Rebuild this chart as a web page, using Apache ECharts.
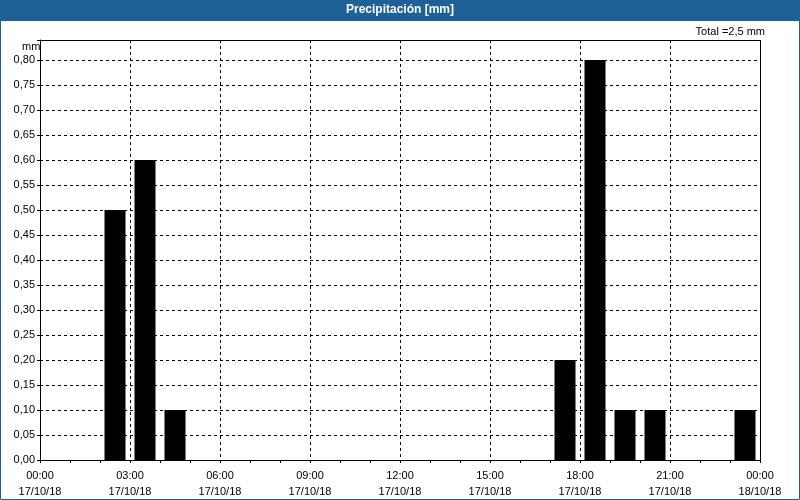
<!DOCTYPE html>
<html><head><meta charset="utf-8">
<script src="https://cdn.jsdelivr.net/npm/echarts@6/dist/echarts.min.js"></script>
<style>html,body{margin:0;padding:0;background:#fff}#c{width:800px;height:500px}</style>
</head><body><div id="c"></div>
<script>
// hours since 00:00 17/10/18 (bar centres) and precipitation in mm
const hours = [2.5, 3.5, 4.5, 17.5, 18.5, 19.5, 20.5, 23.5];
const values = [0.5, 0.6, 0.1, 0.2, 0.8, 0.1, 0.1, 0.1];
const tickTimes = ['00:00','03:00','06:00','09:00','12:00','15:00','18:00','21:00','00:00'];
const tickDates = ['17/10/18','17/10/18','17/10/18','17/10/18','17/10/18','17/10/18','17/10/18','17/10/18','18/10/18'];
const title = 'Precipitación [mm]';
const totalText = 'Total =2,5 mm';

const chart = echarts.init(document.getElementById('c'), null, {renderer:'canvas'});
const font = 'Liberation Sans, Arial, sans-serif';
chart.setOption({
  animation:false,
  backgroundColor:'#fff',
  graphic:[
    {type:'rect', shape:{x:0,y:0,width:800,height:21}, style:{fill:'#1e6199'}, z:-1},
    {type:'rect', shape:{x:0.5,y:0.5,width:799,height:499}, style:{fill:null, stroke:'#1e6199', lineWidth:1}, z:-1},
    {type:'rect', shape:{x:40.5,y:40.5,width:720,height:420}, style:{fill:null, stroke:'#000', lineWidth:1}, z:100},
    {type:'text', left:'center', top:4, style:{text:title, fill:'#fff', font:'bold 12px '+font}},
    {type:'text', right:35, top:26, style:{text:totalText, fill:'#000', font:'11px '+font}},
    {type:'text', left:22, top:41, style:{text:'mm', fill:'#000', font:'11px '+font}}
  ],
  grid:{left:40, right:40, top:40, bottom:40, show:false},
  xAxis:{
    type:'value', min:0, max:24, interval:3,
    axisLine:{show:true, lineStyle:{color:'#000'}},
    axisTick:{show:true, length:3, inside:false, lineStyle:{color:'#000'}},
    minorTick:{show:true, splitNumber:3, length:3, lineStyle:{color:'#000'}},
    splitLine:{show:true, lineStyle:{color:'#000', type:[3,3], width:1}},
    axisLabel:{color:'#000', fontFamily:font, fontSize:11, lineHeight:16, margin:8,
      formatter:function(v){const i=Math.round(v/3); return tickTimes[i]+'\n'+tickDates[i];}}
  },
  yAxis:{
    type:'value', min:0, max:0.84, interval:0.05,
    axisLine:{show:true, lineStyle:{color:'#000'}},
    axisTick:{show:true, length:3, lineStyle:{color:'#000'}},
    splitLine:{show:true, lineStyle:{color:'#000', type:[3,3], width:1}},
    axisLabel:{color:'#000', fontFamily:font, fontSize:11, margin:5,
      formatter:function(v){
        if (Math.abs(Math.round(v*20)-v*20) > 1e-6) return '';
        return v.toFixed(2).replace('.',',');
      }}
  },
  series:[{
    type:'bar', barWidth:21,
    data: hours.map((h,i)=>[h, values[i]]),
    itemStyle:{color:'#000'}
  }]
});
</script></body></html>
